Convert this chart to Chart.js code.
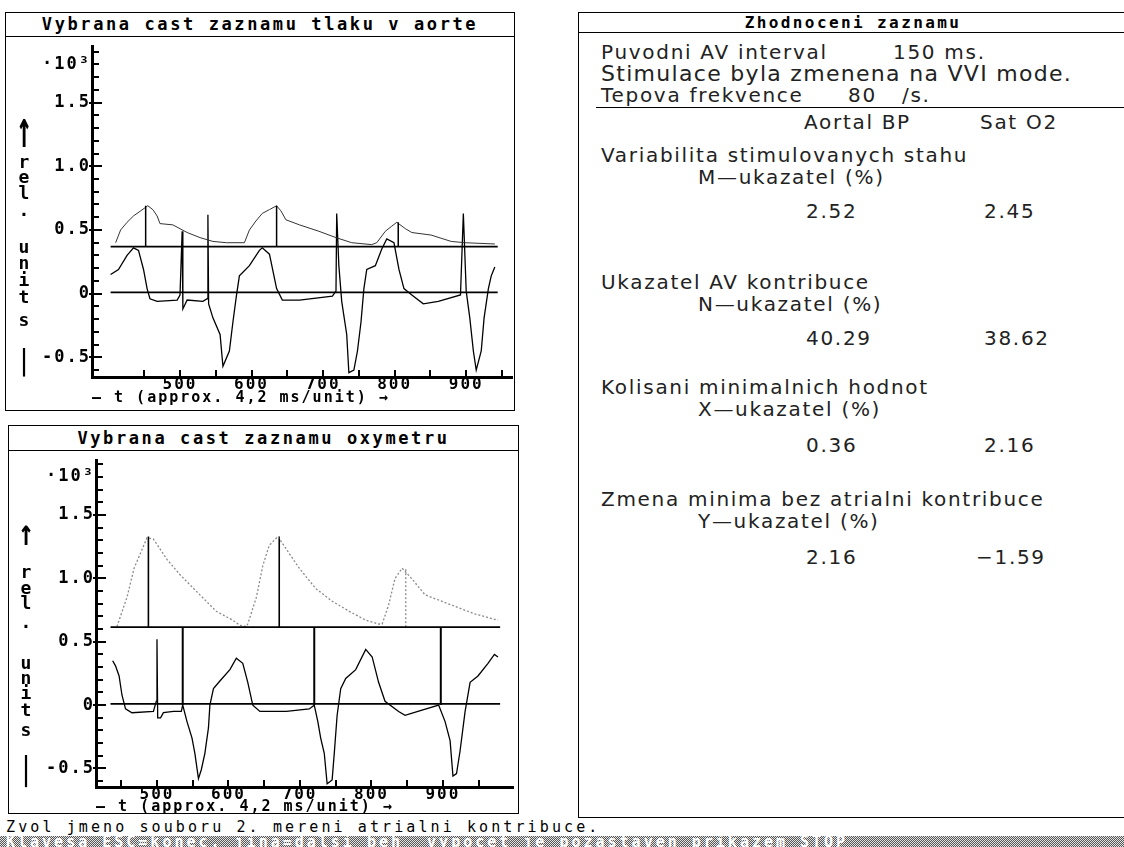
<!DOCTYPE html>
<html>
<head>
<meta charset="utf-8">
<script src="https://cdn.jsdelivr.net/npm/chart.js@4.4.0/dist/chart.umd.min.js"></script>
<style>
  html, body { margin: 0; padding: 0; background: #fff; }
  body { width: 1124px; height: 847px; position: relative; overflow: hidden; font-family: "DejaVu Sans Mono", monospace; color: #000; }
  .panel { position: absolute; border: 1.5px solid #000; box-sizing: border-box; }
  .bar { position: absolute; left: 0; right: 0; top: 0; border-bottom: 1.5px solid #000; text-align: center;
         font-weight: bold; font-size: 17px; letter-spacing: 2.6px; box-sizing: border-box; }
  canvas { position: absolute; }
  .vl { position: absolute; width: 20px; text-align: center; font-weight: bold; font-size: 18px; line-height: 16px; }
  .txt { position: absolute; font-family: "DejaVu Sans ExtraLight", "DejaVu Sans", sans-serif; font-size: 20px;
         line-height: 20px; letter-spacing: 1.7px; white-space: pre; color: #222; }
  #msg { position: absolute; left: 6px; top: 818px; font-size: 15px; letter-spacing: 3.1px; white-space: pre; }
  #status { position: absolute; left: 0; top: 836px; width: 1124px; height: 11px; overflow: hidden;
            background: repeating-conic-gradient(#555 0 25%, #e4e4e4 0 50%) 0 0 / 2px 2px;
            font-size: 15px; line-height: 13px; font-weight: bold; letter-spacing: 3px; color: #fff; white-space: pre; padding-left: 6px; }
</style>
</head>
<body>

<div class="panel" style="left:5px;top:12px;width:510px;height:399px;">
  <div class="bar" style="height:24px;line-height:23px;">Vybrana cast zaznamu tlaku v aorte</div>
</div>
<div class="panel" style="left:8px;top:425px;width:511px;height:389px;">
  <div class="bar" style="height:25px;line-height:24px;">Vybrana cast zaznamu oxymetru</div>
</div>
<div class="panel" style="left:578px;top:12px;width:550px;height:806px;">
  <div class="bar" style="height:20px;line-height:19px;font-size:16px;letter-spacing:2.4px;">Zhodnoceni zaznamu</div>
</div>

<canvas id="aorta" width="508" height="373" style="left:6px;top:37px;"></canvas>
<canvas id="oxy" width="508" height="366" style="left:9px;top:451px;"></canvas>

<div id="msg">Zvol jmeno souboru 2. mereni atrialni kontribuce.</div>
<div id="status">Klavesa ESC=konec, jina=dalsi beh  vypocet je pozastaven prikazem STOP</div>

<script>
// horni graf - tlak v aorte
const topPressT = [410,417,426,435,445,455,462,468,472,490,510,528,546,565,590,597,606,615,625,635,641,648,667,694,718,740,768,775,787,796,803,815,824,851,879,898,940];
const topPressV = [0.40,0.50,0.56,0.61,0.65,0.69,0.66,0.61,0.55,0.54,0.48,0.44,0.41,0.40,0.40,0.50,0.57,0.63,0.66,0.69,0.65,0.58,0.54,0.49,0.44,0.40,0.385,0.40,0.49,0.53,0.56,0.51,0.48,0.46,0.41,0.40,0.39];
const topEcgT = [403,414,426,435,442,449,454,458,468,496,500,503,504,510,532,538,539,540,546,556,560,569,574,579,583,597,611,615,625,635,643,667,713,718,719,722,726,733,736,743,748,753,757,761,773,782,789,799,806,813,824,840,861,892,896,900,905,910,914,921,925,931,935,940];
const topEcgV = [0.15,0.19,0.30,0.36,0.34,0.19,0.04,-0.04,-0.06,-0.05,-0.01,0.49,-0.12,-0.05,-0.06,-0.04,0.62,-0.08,-0.19,-0.32,-0.57,-0.45,-0.22,-0.01,0.14,0.22,0.34,0.36,0.31,0.04,-0.05,-0.05,-0.02,0.02,0.63,0.22,-0.06,-0.32,-0.62,-0.60,-0.45,-0.22,0.04,0.19,0.22,0.35,0.43,0.40,0.19,0.04,-0.01,-0.08,-0.06,-0.01,0.63,0.02,-0.19,-0.45,-0.60,-0.45,-0.19,0.04,0.14,0.21];
const topPeakT = [452, 635, 805];
const topPeakV = [0.69, 0.69, 0.56];
const topLevels = [0.37, 0.01];
const topSpan = [403, 944];

// dolni graf - oxymetr
const oxyT = [444,458,468,477,486,495,514,532,560,583,606,616,625,627,639,648,657,669,681,699,722,745,769,792,810,815,824,833,843,856,875,898,921,944,977];
const oxyV = [0.62,0.85,1.08,1.20,1.32,1.31,1.15,1.03,0.87,0.74,0.67,0.63,0.62,0.64,0.85,1.10,1.26,1.33,1.23,1.08,0.92,0.82,0.74,0.67,0.64,0.64,0.79,1.00,1.08,1.00,0.87,0.82,0.77,0.72,0.67];
const botEcgT = [438,442,447,451,456,465,495,499,500,501,505,509,523,534,536,542,549,553,558,562,567,572,574,579,588,602,611,620,627,634,644,681,713,720,725,729,734,738,745,748,752,757,764,778,792,801,810,819,838,847,865,894,903,910,914,919,924,931,938,949,963,972,977];
const botEcgV = [0.35,0.31,0.23,0.08,-0.03,-0.06,-0.05,0.03,0.52,-0.10,-0.10,-0.06,-0.05,-0.05,0.00,-0.13,-0.26,-0.38,-0.58,-0.51,-0.38,-0.18,0.00,0.13,0.19,0.28,0.37,0.33,0.18,0.00,-0.05,-0.05,-0.03,0.00,-0.13,-0.26,-0.38,-0.62,-0.59,-0.38,-0.08,0.13,0.21,0.28,0.44,0.38,0.18,0.03,-0.05,-0.08,-0.05,0.00,-0.13,-0.28,-0.56,-0.54,-0.36,-0.05,0.18,0.23,0.33,0.40,0.38];
const oxyPeakT = [488, 671, 848];
const oxyPeakV = [1.33, 1.33, 1.08];
const oxyLevels = [0.615, 0.01];
const oxySpan = [435, 980];
const paceT = [536, 720, 897];

// zhodnoceni
const indicators = [
  ["Variabilita stimulovanych stahu", "M"],
  ["Ukazatel AV kontribuce", "N"],
  ["Kolisani minimalnich hodnot", "X"],
  ["Zmena minima bez atrialni kontribuce", "Y"],
];
const aortalBP = [2.52, 40.29, 0.36, 2.16];
const satO2 = [2.45, 38.62, 2.16, -1.59];

const mono = "'DejaVu Sans Mono', monospace";

// utils
function pts(xs, ys) {
  return xs.map((x, i) => ({ x: x, y: ys[i] }));
}
function sticks(xs, from, tops) {
  return xs.flatMap((x, i) => [{ x: x, y: from }, { x: x, y: tops[i] }, { x: x, y: null }]);
}
function hlines(levels, span) {
  return levels.flatMap((v) => [{ x: span[0], y: v }, { x: span[1], y: v }, { x: span[1], y: null }]);
}
function line(data, color, width, dash) {
  return { data: data, showLine: true, borderColor: color, borderWidth: width, borderDash: dash || [], pointRadius: 0, tension: 0, fill: false };
}

const inTicks = {
  id: "inTicks",
  beforeDraw(chart) {
    chart.ctx.letterSpacing = "2px";
  },
  afterDatasetsDraw(chart, args, opts) {
    const { ctx, scales: { x, y } } = chart;
    ctx.save();
    ctx.strokeStyle = "#000";
    ctx.lineWidth = 2;
    x.ticks.forEach((t) => {
      if (t.value < opts.xFrom) return;
      const px = Math.round(x.getPixelForValue(t.value));
      ctx.beginPath();
      ctx.moveTo(px, y.bottom);
      ctx.lineTo(px, y.bottom - 7);
      ctx.stroke();
    });
    y.ticks.forEach((t) => {
      const py = Math.round(y.getPixelForValue(t.value));
      const major = Math.abs(t.value * 2 - Math.round(t.value * 2)) < 1e-6;
      ctx.beginPath();
      ctx.moveTo(x.left - (major ? 3 : 0), py);
      ctx.lineTo(x.left + (major ? 10 : 7), py);
      ctx.stroke();
    });
    ctx.restore();
  },
};

function yLabel(v) {
  const r = Math.round(v * 10) / 10;
  if (Math.abs(r - 1.8) < 1e-6) return "·10³";
  if (Math.abs(r * 2 - Math.round(r * 2)) < 1e-6) return r === 0 ? "0" : r.toFixed(1);
  return "";
}

function makeChart(id, datasets, o) {
  const tickFont = { family: mono, weight: "bold", size: 17, lineHeight: 1 };
  const xTickFont = { family: mono, weight: "bold", size: 16, lineHeight: 0.9 };
  const titleFont = { family: mono, weight: "bold", size: 15, lineHeight: 1 };
  return new Chart(document.getElementById(id), {
    type: "scatter",
    data: { datasets: datasets },
    options: {
      responsive: false,
      animation: false,
      events: [],
      layout: { padding: { top: o.padTop, right: o.padRight, left: 0, bottom: 0 } },
      plugins: { legend: { display: false }, tooltip: { enabled: false }, inTicks: { xFrom: 450 } },
      scales: {
        x: {
          type: "linear",
          min: o.xMin,
          max: o.xMax,
          afterFit: (s) => { s.height = o.xHeight; },
          grid: { drawOnChartArea: false, drawTicks: false },
          border: { display: true, color: "#000", width: 3 },
          ticks: {
            stepSize: 50, includeBounds: false, autoSkip: false, maxRotation: 0, padding: 1, color: "#000", font: xTickFont,
            callback: (v) => (v % 100 === 0 && v >= 500 && v <= 900 ? String(v) : ""),
          },
          title: {
            display: true, text: "— t (approx. 4,2 ms/unit) →", align: "start", color: "#000",
            font: titleFont, padding: { top: 0, bottom: o.titlePad },
          },
        },
        y: {
          type: "linear",
          min: o.yMin,
          max: o.yMax,
          afterFit: (s) => { s.width = o.yWidth; },
          grid: { drawOnChartArea: false, drawTicks: false },
          border: { display: true, color: "#000", width: 3 },
          ticks: { stepSize: 0.1, includeBounds: false, autoSkip: false, padding: 1, color: "#000", font: tickFont, callback: yLabel },
        },
      },
    },
    plugins: [inTicks],
  });
}

makeChart("aorta", [
  line(hlines(topLevels, topSpan), "#000", 1.8),
  line(sticks(topPeakT, topLevels[0], topPeakV), "#000", 1.5),
  line(pts(topPressT, topPressV), "#333", 1),
  line(pts(topEcgT, topEcgV), "#000", 1.3),
], { xMin: 377, xMax: 964, yMin: -0.654, yMax: 1.94, yWidth: 86, xHeight: 33, padTop: 3, padRight: 2, titlePad: 4 });

const oxyDatasets = [
  line(hlines(oxyLevels, oxySpan), "#000", 1.8),
  line(sticks(paceT, oxyLevels[0], paceT.map(() => 0)), "#000", 2),
  line(pts(oxyT, oxyV), "#8a8a8a", 1.3, [2, 2]),
  line(pts(botEcgT, botEcgV), "#000", 1.3),
];
oxyPeakT.forEach((t, i) => {
  const faint = oxyPeakV[i] < Math.max(...oxyPeakV) - 0.1;
  oxyDatasets.push(line(sticks([t], oxyLevels[0], [oxyPeakV[i]]), faint ? "#8a8a8a" : "#000", faint ? 1.3 : 1.6, faint ? [2, 2] : []));
});
makeChart("oxy", oxyDatasets,
  { xMin: 414.7, xMax: 998, yMin: -0.646, yMax: 1.93, yWidth: 87, xHeight: 30, padTop: 1, padRight: 4, titlePad: 2 });

// svisle popisky os
function stackLabel(left, glyphs) {
  glyphs.forEach((g) => {
    const d = document.createElement("div");
    d.className = "vl";
    d.textContent = g[0];
    d.style.left = left + "px";
    d.style.top = (g[1] - 8) + "px";
    if (g[2]) {
      d.style.fontSize = g[2] + "px";
      d.style.lineHeight = "16px";
      d.style.transform = "scaleY(" + g[3] + ")";
    }
    document.body.appendChild(d);
  });
}
stackLabel(14, [["↑", 129, 26, 2.0], ["r", 162], ["e", 177], ["l", 193], ["·", 215], ["u", 247], ["n", 263], ["i", 280], ["t", 297], ["s", 320], ["|", 360, 20, 1.4]]);
stackLabel(16, [["↑", 532, 26, 1.4], ["r", 572], ["e", 588], ["l", 603], ["·", 627], ["u", 663], ["n", 678], ["i", 693], ["t", 710], ["s", 730], ["|", 768, 20, 1.6]]);

// panel zhodnoceni
function txt(s, x, y, size) {
  const d = document.createElement("div");
  d.className = "txt";
  d.textContent = s;
  d.style.left = x + "px";
  d.style.top = (y - 11) + "px";
  if (size) { d.style.fontSize = size + "px"; d.style.letterSpacing = "1.3px"; }
  document.body.appendChild(d);
}
function fmt(v) {
  return v < 0 ? "\u2212" + Math.abs(v).toFixed(2) : v.toFixed(2);
}
txt("Puvodni AV interval", 601, 53);
txt("150 ms.", 893, 53);
txt("Stimulace byla zmenena na VVI mode.", 601, 75, 22);
txt("Tepova frekvence", 601, 96);
txt("80", 848, 96);
txt("/s.", 902, 96);
const rule = document.createElement("div");
rule.style.cssText = "position:absolute;left:596px;top:107px;width:528px;height:0;border-top:1.5px solid #000;";
document.body.appendChild(rule);
txt("Aortal BP", 804, 123);
txt("Sat O2", 980, 123);
const blockY = [156, 283, 388, 500];
indicators.forEach((ind, i) => {
  const y = blockY[i];
  txt(ind[0], 601, y);
  txt(ind[1] + "\u2014ukazatel (%)", 698, y + 22);
  const vy = i < 2 ? y + 56 : y + 58;
  txt(fmt(aortalBP[i]), 806, vy);
  txt(fmt(satO2[i]), satO2[i] < 0 ? 976 : 984, vy);
});
</script>
</body>
</html>
